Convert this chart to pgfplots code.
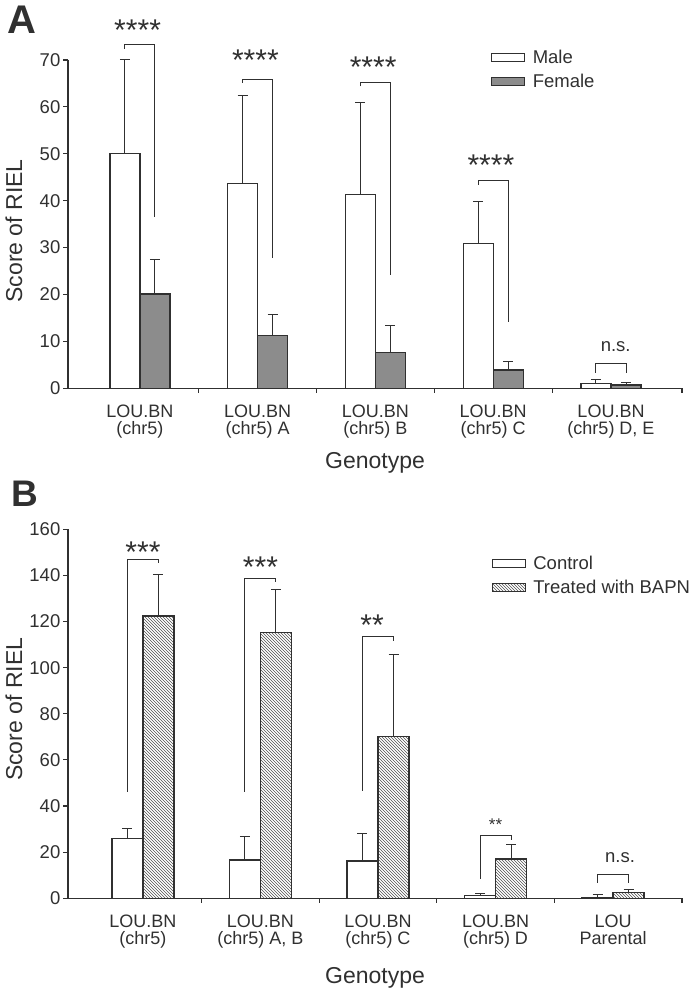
\documentclass[border=0pt]{standalone}
\usepackage{pgfplots}
\pgfplotsset{compat=1.18}
\usetikzlibrary{patterns}
\usepackage{fontspec}
\setmainfont{Liberation Sans}
\definecolor{ink}{HTML}{303030}
\definecolor{fem}{HTML}{8C8C8C}
\definecolor{hatch}{HTML}{505050}
\newcommand{\tfont}{\fontsize{18.5}{20}\selectfont}
\newcommand{\cfont}{\fontsize{18}{17}\selectfont}
\newcommand{\lfont}{\fontsize{23}{26}\selectfont}
\newcommand{\sfont}{\fontsize{30}{30}\selectfont}
\pgfplotsset{
 panel/.style={
  scale only axis, width=614pt,
  axis lines=left, axis line style={-, ink, line width=1.2pt},
  tick align=outside, major tick length=4.5pt,
  tick style={ink, line width=1.1pt},
  /pgf/number format/assume math mode=true,
  yticklabel style={font=\tfont, text=ink, inner sep=1pt, xshift=-2pt},
  xticklabels={},
  extra x tick style={major tick length=0pt,
     xticklabel style={font=\cfont, text=ink, align=center, anchor=north, inner sep=0pt}},
  xticklabel style={font=\cfont, text=ink, align=center, anchor=north, inner sep=0pt, yshift=-16pt},
  xlabel style={font=\lfont, text=ink},
  ylabel style={font=\lfont, text=ink},
  clip=false,
  legend style={draw=none, fill=none, font=\tfont, text=ink, inner sep=0pt, anchor=north west, row sep=5pt, cells={anchor=west}},
  legend image code/.code={\draw[##1,/tikz/.cd, line width=1pt] (0pt,-4pt) rectangle (33pt,4pt); \path[draw=none,fill=none,pattern=none] (0pt,0pt) -- (39pt,0pt);},
 },
 bars/.style={ybar, bar shift=0pt, draw=ink, line width=1.2pt,
   error bars/y dir=plus, error bars/y explicit,
   error bars/error bar style={ink, line width=1pt},
   error bars/error mark options={ink, line width=1pt, mark size=5pt, rotate=90}},
 brk/.style={ink, line width=1pt, forget plot, no markers, sharp plot},
}
\begin{document}
\begin{tikzpicture}[x=1pt,y=1pt]
\useasboundingbox (0,0) rectangle (696,991);
\node[font=\fontsize{40}{40}\selectfont\bfseries, text=ink, anchor=base west, inner sep=0pt] at (7,957) {A};
\node[font=\fontsize{37}{37}\selectfont\bfseries, text=ink, anchor=base west, inner sep=0pt] at (11,484) {B};

% ---------------- Panel A ----------------
\begin{axis}[panel, at={(68pt,602.7pt)}, anchor=south west, height=328.3pt,
 xmin=-0.611, xmax=4.603, ymin=0, ymax=70, ytick={0,10,...,70},
 xtick={0.5,1.5,2.5,3.5,4.603},
 extra x ticks={0,1,2,3,4},
 extra x tick labels={{LOU.BN\\(chr5)},{LOU.BN\\(chr5) A},{LOU.BN\\(chr5) B},{LOU.BN\\(chr5) C},{LOU.BN\\(chr5) D, E}},
 xlabel={Genotype}, ylabel={Score of RIEL},
 xlabel style={at={(axis description cs:0.5,-0.2275)}, anchor=center},
 ylabel style={at={(axis description cs:-0.088,0.479)}, anchor=center},
 legend style={at={(0.689,1.037)}},
]
\addplot[bars, fill=white, bar width=0.2548] coordinates {
 (-0.1274,50.0) +- (0,20.1) (0.8726,43.7) +- (0,18.8) (1.8726,41.4) +- (0,19.6)
 (2.8726,30.9) +- (0,9.0) (3.8726,1.1) +- (0,0.7)};
\addplot[bars, fill=fem, bar width=0.2548] coordinates {
 (0.1274,20.1) +- (0,7.3) (1.1274,11.2) +- (0,4.5) (2.1274,7.6) +- (0,5.7)
 (3.1274,3.9) +- (0,1.9) (4.1274,0.7) +- (0,0.5)};
\legend{Male, Female}
\addplot[brk] coordinates {(-0.1274,72.4) (-0.1274,73.2) (0.1274,73.2) (0.1274,36.5)};
\addplot[brk] coordinates {(0.8726,65.1) (0.8726,65.9) (1.1274,65.9) (1.1274,27.7)};
\addplot[brk] coordinates {(1.8726,64.4) (1.8726,65.2) (2.1274,65.2) (2.1274,24.2)};
\addplot[brk] coordinates {(2.8726,43.4) (2.8726,44.2) (3.1274,44.2) (3.1274,14.2)};
\addplot[brk] coordinates {(3.8726,3.35) (3.8726,5.26) (4.1274,5.26) (4.1274,3.35)};
\node[font=\sfont, text=ink, anchor=base, inner sep=0pt] at (axis cs:-0.02,74.2) {****};
\node[font=\sfont, text=ink, anchor=base, inner sep=0pt] at (axis cs:0.98,67.8) {****};
\node[font=\sfont, text=ink, anchor=base, inner sep=0pt] at (axis cs:1.98,66.3) {****};
\node[font=\sfont, text=ink, anchor=base, inner sep=0pt] at (axis cs:2.98,45.4) {****};
\node[font=\tfont, text=ink, anchor=base, inner sep=0pt] at (axis cs:4.04,7.8) {n.s.};
\end{axis}

% ---------------- Panel B ----------------
\begin{axis}[panel, at={(68pt,92.7pt)}, anchor=south west, height=369pt,
 xmin=-0.638, xmax=4.587, ymin=0, ymax=160, ytick={0,20,...,160},
 xtick={0.5,1.5,2.5,3.5,4.587},
 extra x ticks={0,1,2,3,4},
 extra x tick labels={{LOU.BN\\(chr5)},{LOU.BN\\(chr5) A, B},{LOU.BN\\(chr5) C},{LOU.BN\\(chr5) D},{LOU\\Parental}},
 xlabel={Genotype}, ylabel={Score of RIEL},
 xlabel style={at={(axis description cs:0.5,-0.2155)}, anchor=center},
 ylabel style={at={(axis description cs:-0.088,0.512)}, anchor=center},
 legend style={at={(0.69,0.933)}},
]
\addplot[bars, fill=white, bar width=0.264] coordinates {
 (-0.132,26.0) +- (0,4.2) (0.868,16.6) +- (0,10.0) (1.868,16.2) +- (0,11.7)
 (2.868,1.1) +- (0,0.8) (3.868,0.5) +- (0,1.2)};
\addplot[bars, pattern=north west lines, pattern color=hatch, bar width=0.264] coordinates {
 (0.132,122.4) +- (0,17.9) (1.132,115.2) +- (0,18.5) (2.132,70.0) +- (0,35.6)
 (3.132,17.0) +- (0,6.4) (4.132,2.4) +- (0,1.2)};
\legend{Control, Treated with BAPN}
\addplot[brk] coordinates {(-0.132,46.2) (-0.132,147.1) (0.132,147.1) (0.132,145.4)};
\addplot[brk] coordinates {(0.868,46.2) (0.868,138.8) (1.132,138.8) (1.132,137.1)};
\addplot[brk] coordinates {(1.868,46.7) (1.868,113.4) (2.132,113.4) (2.132,111.7)};
\addplot[brk] coordinates {(2.868,8.4) (2.868,27.4) (3.132,27.4) (3.132,25.3)};
\addplot[brk] coordinates {(3.868,6.8) (3.868,10.4) (4.132,10.4) (4.132,6.8)};
\node[font=\sfont, text=ink, anchor=base, inner sep=0pt] at (axis cs:0,145.8) {***};
\node[font=\sfont, text=ink, anchor=base, inner sep=0pt] at (axis cs:1,139.0) {***};
\node[font=\sfont, text=ink, anchor=base, inner sep=0pt] at (axis cs:1.95,114.0) {**};
\node[font=\fontsize{17}{17}\selectfont, text=ink, anchor=base, inner sep=0pt] at (axis cs:3.0,29.3) {**};
\node[font=\tfont, text=ink, anchor=base, inner sep=0pt] at (axis cs:4.06,15.4) {n.s.};
\end{axis}
\end{tikzpicture}
\end{document}
